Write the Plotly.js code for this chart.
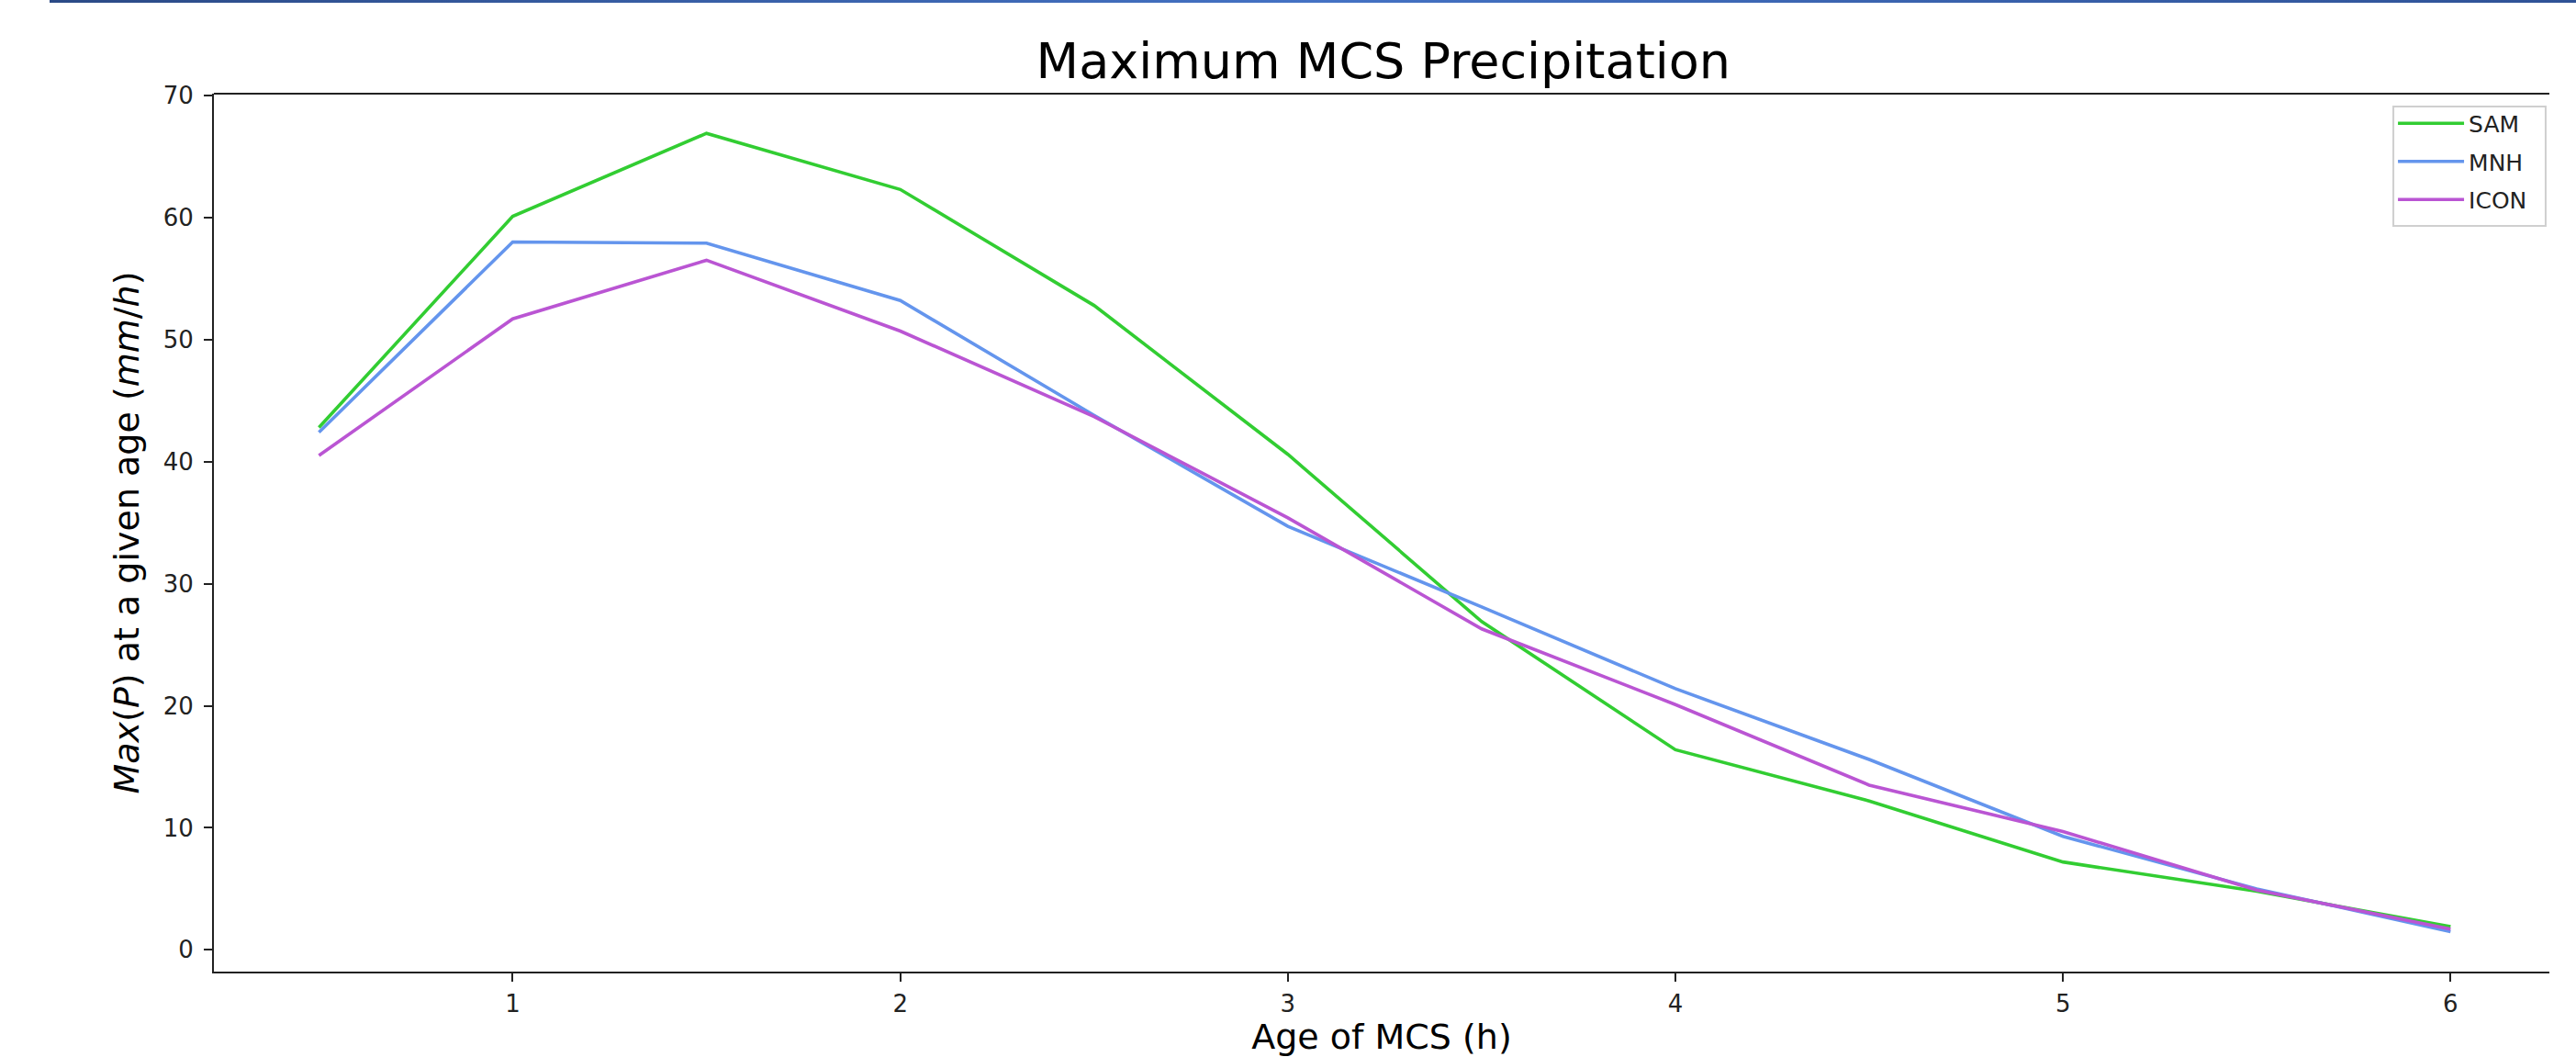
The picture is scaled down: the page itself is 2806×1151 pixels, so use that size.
<!DOCTYPE html>
<html>
<head>
<meta charset="utf-8">
<script src="https://cdn.plot.ly/plotly-3.0.1.min.js"></script>
<style>
  html, body { margin: 0; padding: 0; background: #ffffff; }
  #topbar { position: absolute; left: 54px; top: 0; width: 2752px; height: 3px;
            background: linear-gradient(to right, #2b4a86, #4472c4 50%, #2f5296); z-index: 5; }
  #chart { width: 2806px; height: 1151px; }
</style>
</head>
<body>
<div id="topbar"></div>
<div id="chart"></div>
<script>
// Age of MCS (h)
const ages = [0.5, 1, 1.5, 2, 2.5, 3, 3.5, 4, 4.5, 5, 5.5, 6];
// Max(P) at a given age (mm/h)
const sam  = [42.8, 60.1, 66.9, 62.3, 52.8, 40.6, 26.9, 16.4, 12.2, 7.2, 4.8, 1.9];
const mnh  = [42.4, 58.0, 57.9, 53.2, 43.8, 34.7, 28.1, 21.4, 15.6, 9.3, 5.0, 1.5];
const icon = [40.5, 51.7, 56.5, 50.7, 43.7, 35.4, 26.3, 20.1, 13.5, 9.7, 4.9, 1.7];
const seriesNames = ['SAM', 'MNH', 'ICON'];
const seriesColors = ['#32CD32', '#6495ED', '#BA55D3'];
const xTicks = [1, 2, 3, 4, 5, 6];
const yTicks = [0, 10, 20, 30, 40, 50, 60, 70];

const font = 'DejaVu Sans, Liberation Sans, sans-serif';
const values = [sam, mnh, icon];

const traces = values.map((v, i) => ({
  type: 'scatter',
  mode: 'lines',
  x: ages,
  y: v,
  name: seriesNames[i],
  legendgroup: seriesNames[i],
  line: { color: seriesColors[i], width: 3.6 }
}));

const layout = {
  width: 2806,
  height: 1151,
  margin: { l: 233, r: 29, t: 102, b: 93 },
  paper_bgcolor: '#ffffff',
  plot_bgcolor: '#ffffff',
  font: { family: font, color: '#000000', size: 25 },
  title: {
    text: 'Maximum MCS Precipitation',
    font: { family: font, size: 54, color: '#000000' },
    x: 0.537, xanchor: 'center',
    y: 0.9427, yanchor: 'middle'
  },
  xaxis: {
    range: [0.229, 6.255],
    tickvals: xTicks,
    ticktext: xTicks.map(String),
    ticks: 'outside', ticklen: 9, tickwidth: 2, tickcolor: '#222',
    tickfont: { family: font, size: 26, color: '#222' },
    ticklabelstandoff: 2,
    showgrid: false, zeroline: false,
    showline: true, linecolor: '#222', linewidth: 2,
    mirror: false,
    title: { text: 'Age of MCS (h)', font: { family: font, size: 38, color: '#000' }, standoff: 10 }
  },
  yaxis: {
    range: [-1.78, 70.15],
    tickvals: yTicks,
    ticktext: yTicks.map(String),
    ticks: 'outside', ticklen: 9, tickwidth: 2, tickcolor: '#222',
    tickfont: { family: font, size: 26, color: '#222' },
    ticklabelstandoff: 6,
    showgrid: false, zeroline: false,
    showline: true, linecolor: '#222', linewidth: 2,
    title: { text: '<i>Max</i>(<i>P</i>) at a given age (<i>mm</i>/<i>h</i>)', font: { family: font, size: 38, color: '#000' }, standoff: 14 }
  },
  shapes: [
    { type: 'line', xref: 'paper', yref: 'paper', x0: 0, x1: 1, y0: 1, y1: 1,
      line: { color: '#222', width: 2 } },
    // legend frame (matplotlib-style box)
    { type: 'rect', xref: 'paper', yref: 'paper', layer: 'above',
      x0: 0.9332, x1: 0.9984, y0: 0.8494, y1: 0.9854,
      fillcolor: 'rgba(0,0,0,0)', line: { color: '#cfcfcf', width: 2 } }
  ],
  legend: {
    x: 0.9332, y: 0.990, xanchor: 'left', yanchor: 'top',
    bgcolor: 'rgba(255,255,255,0)', borderwidth: 0,
    font: { family: font, size: 25, color: '#222' },
    itemwidth: 72,
    traceorder: 'grouped', tracegroupgap: 6
  },
  showlegend: true
};

Plotly.newPlot('chart', traces, layout, { displayModeBar: false, staticPlot: true });
</script>
</body>
</html>
